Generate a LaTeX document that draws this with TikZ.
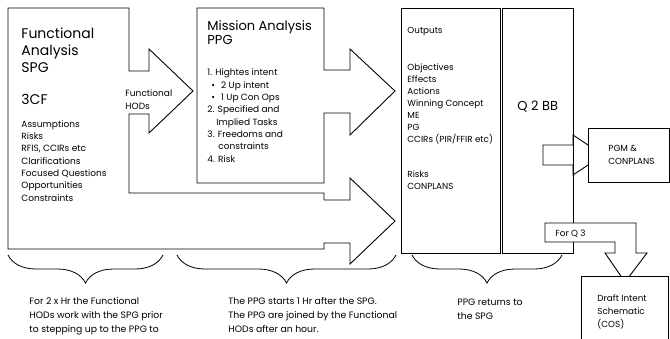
\documentclass[tikz,border=0pt]{standalone}
\usepackage{fontspec}
\setmainfont{Poppins}
\usetikzlibrary{decorations.pathreplacing}
\begin{document}
\begin{tikzpicture}[
        x=1pt, y=-1pt, line width=0.9pt,
        every node/.style={inner sep=0pt, anchor=base west, align=left},
        forma/.style={draw, fill=white, line join=miter},
        titulo/.style={font=\fontsize{14}{17}\selectfont},
        titulo2/.style={font=\fontsize{13}{14.5}\selectfont},
        lista/.style={font=\fontsize{9}{12.3}\selectfont},
        chica/.style={font=\fontsize{8.8}{12}\selectfont},
        nota/.style={font=\fontsize{9.3}{14}\selectfont},
        llave/.style={draw, line width=0.8pt, decorate, decoration={brace, amplitude=28pt, mirror}}
    ]
    \useasboundingbox (0,0) rectangle (670,338);

    % SPG con las dos flechas
    \draw[forma] (8,8) -- (129,8) -- (129,71) -- (149,71) -- (149,49) -- (193,91) -- (149,133)
        -- (149,114) -- (129,114) -- (129,193) -- (324,193) -- (324,200) -- (350,200) -- (350,178)
        -- (395,221) -- (350,264) -- (350,243) -- (324,243) -- (324,249) -- (8,249) -- cycle;
    % PPG
    \draw[forma] (197,8) -- (324,8) -- (324,70) -- (350,70) -- (350,49) -- (395,91) -- (350,135)
        -- (350,113) -- (324,113) -- (324,183) -- (197,183) -- cycle;
    % salidas y Q 2 BB
    \draw[forma] (401,8) rectangle (500,253);
    \draw[forma] (502,8) rectangle (573,253);
    \draw[draw, line join=miter] (543,145) -- (573,145) -- (573,135) -- (603,155) -- (573,175)
        -- (573,165) -- (543,165) -- cycle;
    \draw[forma] (588,128) rectangle (669,182);
    \draw[forma] (545,223) -- (636,223) -- (636,253) -- (647,253) -- (625,282) -- (605,253)
        -- (615,253) -- (615,242) -- (545,242) -- cycle;
    \draw[forma] (581,276) rectangle (668,345);

    % textos (anclados en la linea base de la ultima fila)
    \node[titulo] (spg) at (21,72) {Functional\\Analysis\\SPG};
    \node[titulo] (cf3) at (21,104) {3CF};
    \node[lista] (cflista) at (21,201) {Assumptions\\Risks\\RFIS, CCIRs etc\\Clarifications\\Focused Questions\\Opportunities\\Constraints};
    \node[lista] (hods) at (125,109) {Functional\\HODs};

    \node[titulo2] (ppg) at (207,44.5) {Mission Analysis\\PPG};
    \node[lista] (ppglista) at (207,162) {1. Hightes intent\\
        \hspace*{4pt}\textbullet\hspace{6pt}2 Up intent\\
        \hspace*{4pt}\textbullet\hspace{6pt}1 Up Con Ops\\
        2. Specified and\\\hspace*{9pt}Implied Tasks\\
        3. Freedoms and\\\hspace*{11pt}constraints\\4. Risk};

    \node[chica] (salidas) at (407,33) {Outputs};
    \node[chica] (objetivos) at (407,142) {Objectives\\Effects\\Actions\\Winning Concept\\ME\\PG\\CCIRs (PIR/FFIR etc)};
    \node[chica] (riesgos) at (407,189) {Risks\\CONPLANS};
    \node[titulo2] (q2bb) at (517,110) {Q 2 BB};
    \node[chica, font=\fontsize{8.8}{13}\selectfont] (pgm) at (608,164) {PGM \&\\CONPLANS};
    \node[chica] (forq3) at (555,236) {For Q 3};
    \node[chica, font=\fontsize{8.8}{13}\selectfont] (draft) at (597,327) {Draft Intent\\Schematic\\(COS)};

    % llaves y notas
    \coordinate (l1a) at (8,255);
    \coordinate (l1b) at (163,255);
    \coordinate (l2a) at (177,255);
    \coordinate (l2b) at (396,255);
    \coordinate (l3a) at (412,255);
    \coordinate (l3b) at (562,255);
    \draw[llave] (l1a) -- (l1b);
    \draw[llave] (l2a) -- (l2b);
    \draw[llave] (l3a) -- (l3b);

    \node[nota] (nota1) at (29,332) {For 2 x Hr the Functional\\HODs work with the SPG prior\\to stepping up to the PPG to};
    \node[nota] (nota2) at (228,332) {The PPG starts 1 Hr after the SPG.\\The PPG are joined by the Functional\\HODs after an hour.};
    \node[nota] (nota3) at (457,319) {PPG returns to\\the SPG};
\end{tikzpicture}
\end{document}
